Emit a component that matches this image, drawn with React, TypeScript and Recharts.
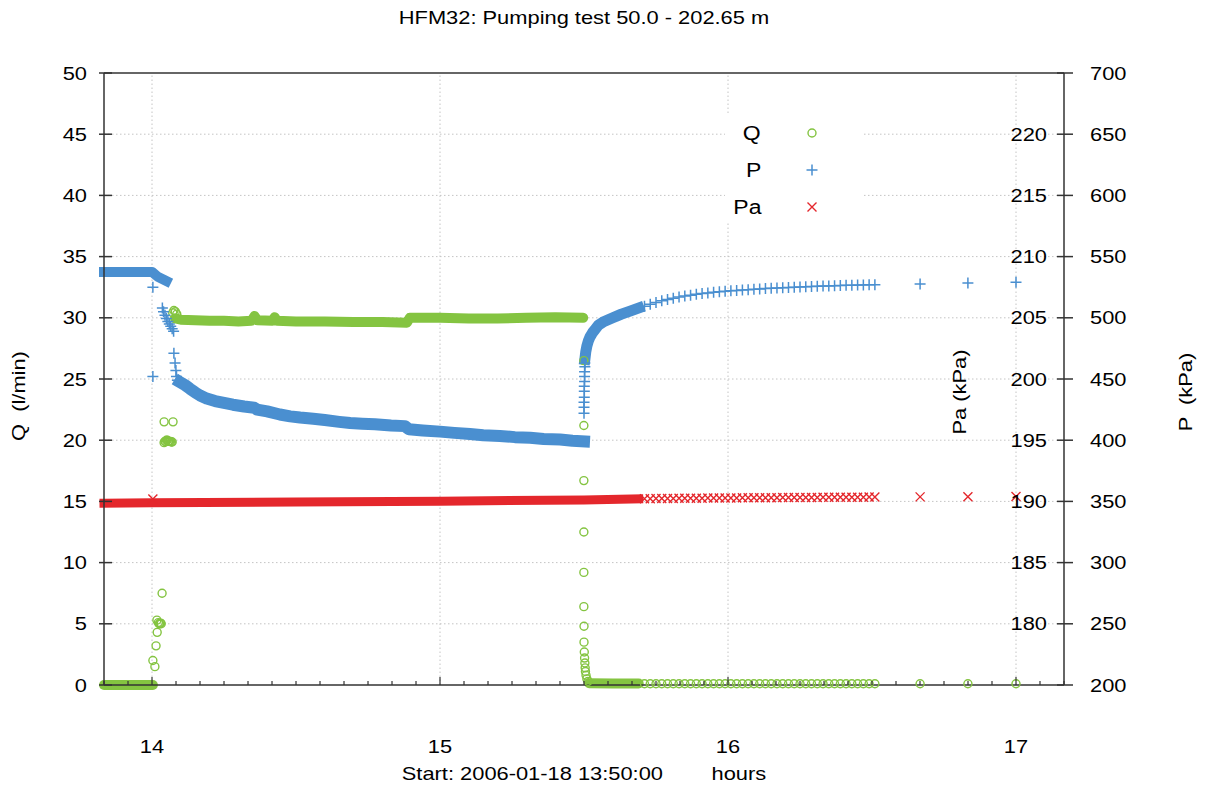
import React from "react";
import { ComposedChart, Line, ReferenceLine, Scatter, XAxis, YAxis } from "recharts";

const FONT = '"Liberation Sans", Arial, Helvetica, sans-serif';
// glyphs are drawn a little wider than the plain face
const STRETCH = 1.15;

const Q_COLOR = "#84c441";
const P_COLOR = "#4a8fd0";
const PA_COLOR = "#e4272c";
const FRAME = "#333333";
const GRID = "#c4c4c4";

// time axis in hours of the day
const T_START = 13 + 50 / 60;
const T_END = 17 + 10 / 60;

const hourTicks = [14, 15, 16, 17];
const qTicks = [0, 5, 10, 15, 20, 25, 30, 35, 40, 45, 50];
const paTicks = [180, 185, 190, 195, 200, 205, 210, 215, 220];
const pTicks = [200, 250, 300, 350, 400, 450, 500, 550, 600, 650, 700];

const seriesNames = ["Q", "P", "Pa"];

// ---- Q (l/min) ----
const qBeforeStart = [[13.8333, 0], [14.003, 0]];
const qStartUp = [
  [14.003, 2.0], [14.01, 1.5], [14.014, 3.2], [14.018, 4.3], [14.017, 5.3], [14.022, 5.1],
  [14.025, 5.0], [14.027, 5.0], [14.03, 5.05], [14.032, 5.0], [14.035, 7.5], [14.042, 21.5], [14.073, 21.5],
  [14.042, 19.8], [14.045, 19.9], [14.047, 19.9], [14.05, 20.0], [14.053, 20.0], [14.056, 19.9],
  [14.058, 19.9], [14.061, 19.9], [14.064, 19.9], [14.067, 19.85], [14.07, 19.85],
  [14.072, 30.4], [14.076, 30.6], [14.081, 30.5], [14.086, 30.3],
];
const qPumping = [
  [14.08, 29.95], [14.1, 29.85], [14.15, 29.8], [14.2, 29.75], [14.25, 29.75], [14.3, 29.7],
  [14.345, 29.75], [14.356, 30.15], [14.366, 29.8], [14.418, 29.75], [14.426, 30.05], [14.434, 29.75],
  [14.5, 29.7], [14.6, 29.7], [14.7, 29.65], [14.8, 29.65], [14.885, 29.6], [14.895, 30.0],
  [15.0, 30.0], [15.1, 29.95], [15.2, 29.95], [15.3, 30.0], [15.4, 30.05], [15.497, 30.0],
];
const qStop = [
  [15.4995, 26.5], [15.4995, 21.2], [15.4995, 16.7], [15.4995, 12.5], [15.4995, 9.2], [15.4995, 6.4],
  [15.5, 4.8], [15.5, 3.5], [15.501, 2.7], [15.502, 2.2], [15.503, 1.8], [15.504, 1.4],
  [15.505, 1.1], [15.507, 0.8], [15.51, 0.5], [15.514, 0.3],
];
const qAfterStop = [[15.518, 0.15], [15.6, 0.12], [15.69, 0.12]];

// ---- P (kPa) ----
const pBeforeStart = [[13.8333, 537.5], [14.0, 537.5], [14.02, 533.5], [14.05, 530]];
const pStartUp = [
  [14.003, 525], [14.003, 452],
  [14.036, 508], [14.04, 505], [14.045, 502], [14.05, 499.5], [14.055, 497], [14.06, 495],
  [14.065, 493], [14.07, 491], [14.075, 489],
  [14.076, 471], [14.08, 463], [14.083, 457], [14.085, 452], [14.088, 449],
];
const pPumping = [
  [14.097, 447.5], [14.115, 445], [14.132, 442], [14.15, 439], [14.167, 436.5], [14.19, 434],
  [14.219, 432], [14.25, 430.5], [14.281, 429], [14.32, 427.5], [14.355, 426.5], [14.365, 425],
  [14.4, 423.5], [14.444, 421], [14.48, 419.5], [14.514, 418.5], [14.56, 417.5], [14.6, 416.5],
  [14.65, 415], [14.688, 414], [14.73, 413.5], [14.774, 413], [14.83, 412], [14.878, 411.5],
  [14.892, 409], [14.94, 408], [15.0, 407], [15.05, 406], [15.104, 405], [15.15, 404],
  [15.208, 403.5], [15.26, 402.5], [15.313, 402], [15.36, 401], [15.417, 400.5], [15.46, 399.5],
  [15.5, 399],
];
const pStop = [
  [15.5, 422], [15.5, 427], [15.5, 431], [15.501, 435], [15.501, 440], [15.501, 444],
  [15.502, 448], [15.502, 452], [15.502, 456], [15.503, 460], [15.503, 463],
];
const pRecovery = [
  [15.503, 466], [15.506, 472], [15.51, 477], [15.515, 481], [15.52, 484], [15.53, 488],
  [15.54, 491], [15.55, 494], [15.57, 497], [15.6, 500], [15.63, 503], [15.66, 505.5],
  [15.69, 508],
];

// ---- Pa (kPa) ----
const paLogged = [[13.8333, 189.85], [14.0, 189.88], [14.5, 189.95], [15.0, 190.02], [15.5, 190.12], [15.69, 190.2]];
const paStartUp = [[14.003, 190.2]];

// sparse logging after 15:41
const tailTimes = [
  15.71, 15.73, 15.75, 15.77, 15.79, 15.81, 15.83, 15.85, 15.87, 15.89, 15.91, 15.93, 15.95, 15.97,
  15.99, 16.01, 16.03, 16.05, 16.07, 16.09, 16.11, 16.13, 16.15, 16.17, 16.19, 16.21, 16.23, 16.25,
  16.27, 16.29, 16.31, 16.33, 16.35, 16.37, 16.39, 16.41, 16.43, 16.45, 16.47, 16.49, 16.51,
  16.667, 16.833, 17.0,
];
const qTail = [
  0.1, 0.1, 0.1, 0.1, 0.1, 0.1, 0.1, 0.1, 0.1, 0.1, 0.1, 0.1, 0.1, 0.1, 0.1, 0.1, 0.1, 0.1, 0.1, 0.1, 0.1, 0.1,
  0.1, 0.1, 0.1, 0.1, 0.1, 0.1, 0.1, 0.1, 0.1, 0.1, 0.1, 0.1, 0.1, 0.1, 0.1, 0.1, 0.1, 0.1, 0.1, 0.1, 0.1, 0.1,
];
const pTail = [
  509.5, 511, 512.5, 514, 515, 516, 517, 517.8, 518.5, 519.2, 519.8, 520.3, 520.8, 521.2, 521.6,
  522, 522.4, 522.7, 523, 523.3, 523.6, 523.9, 524.1, 524.4, 524.6, 524.8, 525, 525.2, 525.4,
  525.6, 525.7, 525.9, 526, 526.2, 526.3, 526.5, 526.6, 526.7, 526.8, 527, 527.1, 527.6, 528.4, 529,
];
const paTail = [
  190.22, 190.22, 190.23, 190.23, 190.24, 190.24, 190.25, 190.25, 190.25, 190.26, 190.26, 190.27,
  190.27, 190.27, 190.28, 190.28, 190.28, 190.29, 190.29, 190.29, 190.3, 190.3, 190.3, 190.3,
  190.31, 190.31, 190.31, 190.32, 190.32, 190.32, 190.32, 190.33, 190.33, 190.33, 190.33, 190.34,
  190.34, 190.34, 190.34, 190.35, 190.35, 190.37, 190.38, 190.4,
];

type Pt = { t: number; v: number };
const rows = (r: number[][]): Pt[] => r.map(([t, v]) => ({ t, v }));
const zip = (ts: number[], vs: number[]): Pt[] => ts.map((t, i) => ({ t, v: vs[i] }));

// 5-minute minor ticks plus the full hours
const minuteTicks: number[] = [];
for (let k = 0; k <= 40; k++) {
  const v = T_START + k / 12;
  minuteTicks.push(Math.abs(v - Math.round(v)) < 1e-6 ? Math.round(v) : v);
}

const StretchText = ({ x, y, anchor, size = 19, children }: any) => (
  <text
    transform={`translate(${x} ${y}) scale(${STRETCH} 1)`}
    textAnchor={anchor}
    dy="0.35em"
    fontSize={size}
    fontFamily={FONT}
    fill="#000"
  >
    {children}
  </text>
);

const QMark = ({ cx, cy }: any) => (
  <circle cx={cx} cy={cy} r={4} fill="none" stroke={Q_COLOR} strokeWidth={1.4} />
);
const PMark = ({ cx, cy }: any) => (
  <path d={`M${cx - 5.5},${cy}H${cx + 5.5}M${cx},${cy - 5.5}V${cy + 5.5}`} stroke={P_COLOR} strokeWidth={1.5} />
);
const PaMark = ({ cx, cy }: any) => (
  <path
    d={`M${cx - 4.5},${cy - 4.5}L${cx + 4.5},${cy + 4.5}M${cx - 4.5},${cy + 4.5}L${cx + 4.5},${cy - 4.5}`}
    stroke={PA_COLOR}
    strokeWidth={1.4}
  />
);

const QTick = ({ x, y, payload }: any) => (
  <g>
    <line x1={x - 5} x2={x + 8} y1={y} y2={y} stroke={FRAME} strokeWidth={1.5} />
    <StretchText x={x - 17} y={y} anchor="end">{payload.value}</StretchText>
  </g>
);
const PTick = ({ x, y, payload }: any) => (
  <g>
    <line x1={x - 7} x2={x + 9} y1={y} y2={y} stroke={FRAME} strokeWidth={1.5} />
    <StretchText x={x + 26} y={y} anchor="start">{payload.value}</StretchText>
  </g>
);
const PaTick = ({ x, y, payload }: any) => (
  <StretchText x={x - 17} y={y} anchor="end">{payload.value}</StretchText>
);
const HourTick = ({ x, y, payload }: any) => {
  const major = hourTicks.includes(payload.value);
  return (
    <g>
      <line x1={x} x2={x} y1={y} y2={y - (major ? 8 : 4)} stroke={FRAME} strokeWidth={1.2} />
      {major && <StretchText x={x} y={y + 61} anchor="middle">{payload.value}</StretchText>}
    </g>
  );
};

const AxisTitle = ({ cx, cy, text }: any) => (
  <text
    transform={`translate(${cx} ${cy}) rotate(-90) scale(${STRETCH} 1)`}
    textAnchor="middle"
    dy="0.35em"
    fontSize={19}
    fontFamily={FONT}
    fill="#000"
    style={{ whiteSpace: "pre" }}
  >
    {text}
  </text>
);

const legendMarks = [QMark, PMark, PaMark];

function LegendBox() {
  return (
    <div style={{ position: "absolute", left: 725, top: 115, width: 138, height: 108, background: "#fff" }}>
      {seriesNames.map((name, i) => {
        const Mark = legendMarks[i];
        const cy = 18 + i * 37;
        return (
          <React.Fragment key={name}>
            <div
              style={{
                position: "absolute",
                right: 102,
                top: cy - 12,
                lineHeight: "24px",
                fontSize: 20,
                fontFamily: FONT,
                transform: `scaleX(${STRETCH})`,
                transformOrigin: "right center",
              }}
            >
              {name}
            </div>
            <svg style={{ position: "absolute", left: 77, top: cy - 10 }} width={20} height={20}>
              <Mark cx={10} cy={10} />
            </svg>
          </React.Fragment>
        );
      })}
    </div>
  );
}

const textLine = {
  position: "absolute" as const,
  left: 104,
  width: 960,
  textAlign: "center" as const,
  fontSize: 19,
  lineHeight: "22px",
  fontFamily: FONT,
  whiteSpace: "pre" as const,
  transform: `scaleX(${STRETCH})`,
};

export default function App() {
  return (
    <div style={{ position: "relative", width: 1213, height: 792, background: "#fff" }}>
      <style>{"body{margin:0}"}</style>
      <ComposedChart width={1213} height={792} margin={{ top: 73, right: 0, bottom: 0, left: 0 }}>
        <XAxis
          dataKey="t"
          type="number"
          domain={[T_START, T_END]}
          ticks={minuteTicks}
          interval={0}
          height={107}
          tickSize={0}
          tickMargin={0}
          tick={<HourTick />}
          tickLine={false}
          axisLine={{ stroke: FRAME, strokeWidth: 1.5 }}
        />
        <YAxis
          yAxisId="q"
          dataKey="v"
          type="number"
          domain={[0, 50]}
          ticks={qTicks}
          interval={0}
          width={104}
          tickSize={0}
          tickMargin={0}
          tick={<QTick />}
          tickLine={false}
          axisLine={{ stroke: FRAME, strokeWidth: 1.5 }}
          label={<AxisTitle cx={18} cy={396} text="Q  (l/min)" />}
        />
        <YAxis
          yAxisId="p"
          orientation="right"
          dataKey="v"
          type="number"
          domain={[200, 700]}
          ticks={pTicks}
          interval={0}
          width={149}
          tickSize={0}
          tickMargin={0}
          tick={<PTick />}
          tickLine={false}
          axisLine={{ stroke: FRAME, strokeWidth: 1.5 }}
          label={<AxisTitle cx={1185} cy={392} text="P  (kPa)" />}
        />
        <YAxis
          yAxisId="pa"
          orientation="right"
          mirror
          dataKey="v"
          type="number"
          domain={[175, 225]}
          ticks={paTicks}
          interval={0}
          tickSize={0}
          tickMargin={0}
          tick={<PaTick />}
          tickLine={false}
          axisLine={false}
          label={<AxisTitle cx={959} cy={392} text="Pa (kPa)" />}
        />

        {qTicks.slice(1, -1).map((v) => (
          <ReferenceLine key={`h${v}`} yAxisId="q" y={v} stroke={GRID} strokeDasharray="1.5 2.5" />
        ))}
        {hourTicks.map((h) => (
          <ReferenceLine key={`v${h}`} yAxisId="q" x={h} stroke={GRID} strokeDasharray="1.5 2.5" />
        ))}
        <ReferenceLine yAxisId="q" y={50} stroke={FRAME} strokeWidth={1.5} />

        {/* flow rate */}
        <Line data={rows(qBeforeStart)} yAxisId="q" dataKey="v" type="linear" stroke={Q_COLOR} strokeWidth={10}
          strokeLinecap="round" dot={false} activeDot={false} isAnimationActive={false} />
        <Line data={rows(qPumping)} yAxisId="q" dataKey="v" type="linear" stroke={Q_COLOR} strokeWidth={10}
          strokeLinecap="round" strokeLinejoin="round" dot={false} activeDot={false} isAnimationActive={false} />
        <Line data={rows(qAfterStop)} yAxisId="q" dataKey="v" type="linear" stroke={Q_COLOR} strokeWidth={10}
          strokeLinecap="round" dot={false} activeDot={false} isAnimationActive={false} />
        <Scatter data={rows(qStartUp)} yAxisId="q" dataKey="v" shape={QMark} isAnimationActive={false} />
        <Scatter data={rows(qStop)} yAxisId="q" dataKey="v" shape={QMark} isAnimationActive={false} />
        <Scatter data={zip(tailTimes, qTail)} yAxisId="q" dataKey="v" shape={QMark} isAnimationActive={false} />

        {/* section pressure */}
        <Line data={rows(pBeforeStart)} yAxisId="p" dataKey="v" type="linear" stroke={P_COLOR} strokeWidth={10}
          strokeLinecap="square" strokeLinejoin="round" dot={false} activeDot={false} isAnimationActive={false} />
        <Line data={rows(pPumping)} yAxisId="p" dataKey="v" type="linear" stroke={P_COLOR} strokeWidth={12}
          strokeLinecap="square" strokeLinejoin="round" dot={false} activeDot={false} isAnimationActive={false} />
        <Line data={rows(pRecovery)} yAxisId="p" dataKey="v" type="linear" stroke={P_COLOR} strokeWidth={11}
          strokeLinecap="square" strokeLinejoin="round" dot={false} activeDot={false} isAnimationActive={false} />
        <Scatter data={rows(pStartUp)} yAxisId="p" dataKey="v" shape={PMark} isAnimationActive={false} />
        <Scatter data={rows(pStop)} yAxisId="p" dataKey="v" shape={PMark} isAnimationActive={false} />
        <Scatter data={zip(tailTimes, pTail)} yAxisId="p" dataKey="v" shape={PMark} isAnimationActive={false} />

        {/* atmospheric pressure */}
        <Line data={rows(paLogged)} yAxisId="pa" dataKey="v" type="linear" stroke={PA_COLOR} strokeWidth={9}
          strokeLinecap="square" dot={false} activeDot={false} isAnimationActive={false} />
        <Scatter data={rows(paStartUp)} yAxisId="pa" dataKey="v" shape={PaMark} isAnimationActive={false} />
        <Scatter data={zip(tailTimes, paTail)} yAxisId="pa" dataKey="v" shape={PaMark} isAnimationActive={false} />
      </ComposedChart>

      <div style={{ ...textLine, top: 7 }}>HFM32: Pumping test 50.0 - 202.65 m</div>
      <div style={{ ...textLine, top: 763 }}>{"Start: 2006-01-18 13:50:00        hours"}</div>
      <LegendBox />
    </div>
  );
}
